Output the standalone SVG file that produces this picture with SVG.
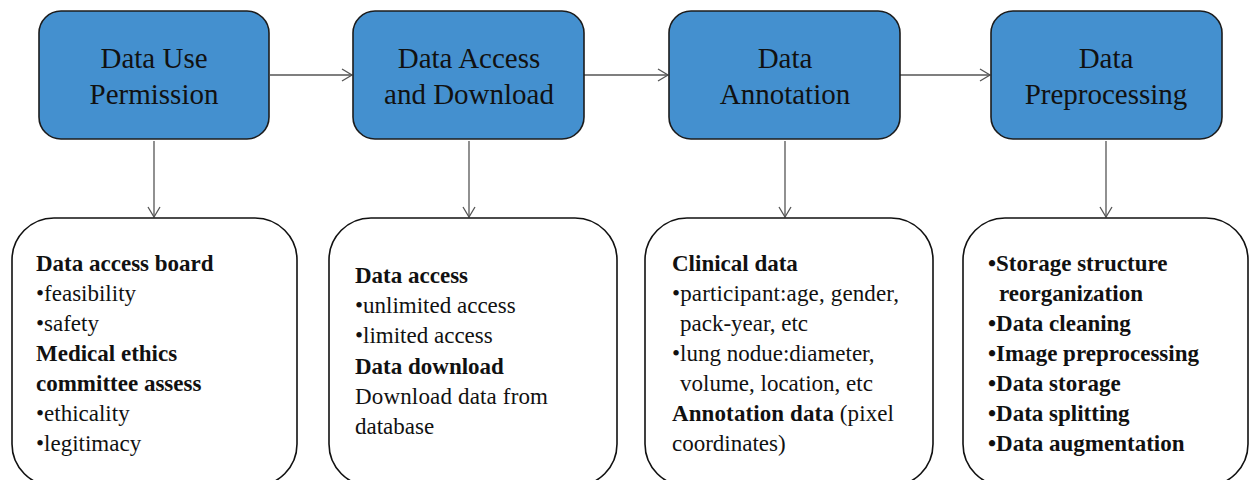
<svg xmlns="http://www.w3.org/2000/svg" width="1255" height="480" viewBox="0 0 1255 480">
<style>
.top{fill:#4490cf;stroke:#1c1c1c;stroke-width:1.6}
.bot{fill:#fff;stroke:#111;stroke-width:1.6}
.ttl{font-family:"Liberation Serif",serif;font-size:29px;fill:#111;text-anchor:middle}
.t{font-family:"Liberation Serif",serif;font-size:23px;fill:#111}
.b{font-weight:bold}
.conn line{stroke:#555;stroke-width:1.3;fill:none}
</style>
<defs>
<marker id="arr" markerWidth="14" markerHeight="14" refX="11" refY="7" orient="auto" markerUnits="userSpaceOnUse">
<path d="M1,1 L11,7 L1,13" fill="none" stroke="#555" stroke-width="1.3"/>
</marker>
</defs>
<rect width="1255" height="480" fill="#fff"/>
<g class="conn">
<line x1="270" y1="75" x2="352" y2="75" marker-end="url(#arr)"/>
<line x1="584" y1="75" x2="668" y2="75" marker-end="url(#arr)"/>
<line x1="900" y1="75" x2="990" y2="75" marker-end="url(#arr)"/>
<line x1="154" y1="141" x2="154" y2="217" marker-end="url(#arr)"/>
<line x1="469" y1="141" x2="469" y2="217" marker-end="url(#arr)"/>
<line x1="785" y1="141" x2="785" y2="217" marker-end="url(#arr)"/>
<line x1="1106" y1="141" x2="1106" y2="217" marker-end="url(#arr)"/>
</g>
<g id="n1">
<rect class="top" x="39" y="11" width="230" height="128" rx="22"/>
<text class="ttl" x="154" y="68">Data Use</text>
<text class="ttl" x="154" y="104">Permission</text>
</g>
<g id="n2">
<rect class="top" x="353" y="11" width="231" height="128" rx="22"/>
<text class="ttl" x="469" y="68">Data Access</text>
<text class="ttl" x="469" y="104">and Download</text>
</g>
<g id="n3">
<rect class="top" x="669" y="11" width="231" height="128" rx="22"/>
<text class="ttl" x="785" y="68">Data</text>
<text class="ttl" x="785" y="104">Annotation</text>
</g>
<g id="n4">
<rect class="top" x="991" y="11" width="231" height="128" rx="22"/>
<text class="ttl" x="1106" y="68">Data</text>
<text class="ttl" x="1106" y="104">Preprocessing</text>
</g>
<g id="d1">
<rect class="bot" x="12" y="218" width="285" height="268" rx="42"/>
<text class="t b" x="36" y="271">Data access board</text>
<text class="t" x="36" y="301">•feasibility</text>
<text class="t" x="36" y="331">•safety</text>
<text class="t b" x="36" y="361">Medical ethics</text>
<text class="t b" x="36" y="391">committee assess</text>
<text class="t" x="36" y="421">•ethicality</text>
<text class="t" x="36" y="451">•legitimacy</text>
</g>
<g id="d2">
<rect class="bot" x="329" y="218" width="288" height="268" rx="42"/>
<text class="t b" x="355" y="283">Data access</text>
<text class="t" x="355" y="313">•unlimited access</text>
<text class="t" x="355" y="343">•limited access</text>
<text class="t b" x="355" y="374">Data download</text>
<text class="t" x="355" y="404" textLength="193" lengthAdjust="spacing">Download data from</text>
<text class="t" x="355" y="434">database</text>
</g>
<g id="d3">
<rect class="bot" x="645" y="218" width="288" height="268" rx="42"/>
<text class="t b" x="672" y="271">Clinical data</text>
<text class="t" x="672" y="301" textLength="227" lengthAdjust="spacing">•participant:age, gender,</text>
<text class="t" x="680" y="331">pack-year, etc</text>
<text class="t" x="672" y="361">•lung nodue:diameter,</text>
<text class="t" x="680" y="391">volume, location, etc</text>
<text class="t" x="672" y="421" textLength="222" lengthAdjust="spacing"><tspan class="b">Annotation data</tspan> (pixel</text>
<text class="t" x="672" y="451">coordinates)</text>
</g>
<g id="d4">
<rect class="bot" x="963" y="218" width="285" height="268" rx="42"/>
<text class="t b" x="988" y="271">•Storage structure</text>
<text class="t b" x="999" y="301">reorganization</text>
<text class="t b" x="988" y="331">•Data cleaning</text>
<text class="t b" x="988" y="361">•Image preprocessing</text>
<text class="t b" x="988" y="391">•Data storage</text>
<text class="t b" x="988" y="421">•Data splitting</text>
<text class="t b" x="988" y="451">•Data augmentation</text>
</g>
</svg>
